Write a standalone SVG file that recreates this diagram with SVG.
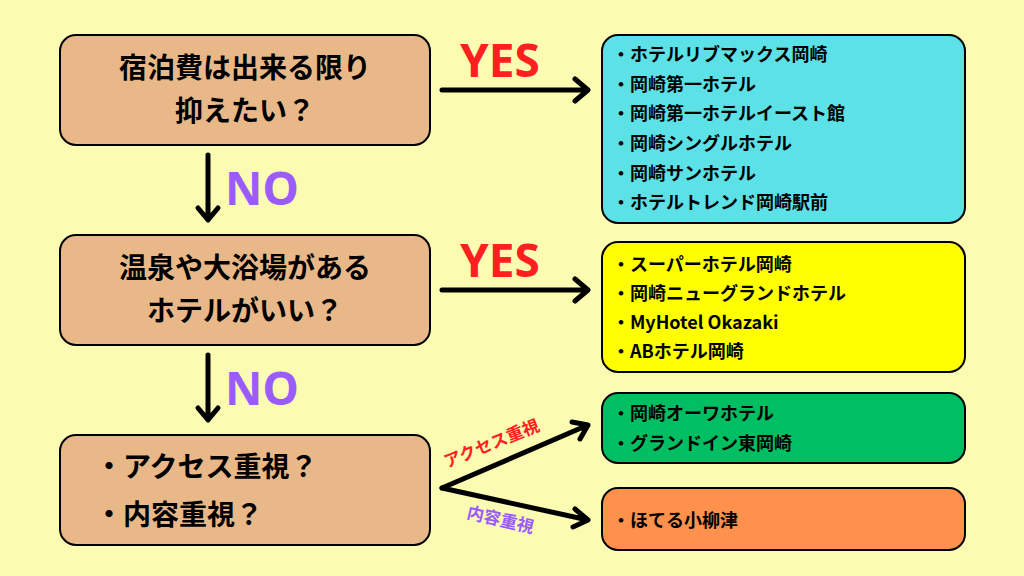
<svg xmlns="http://www.w3.org/2000/svg" width="1024" height="576" viewBox="0 0 1024 576">
<defs>
<style>
text{font-family:"Noto Sans CJK JP","Noto Sans",sans-serif;font-weight:bold}
.q{fill:#E9B888;stroke:#000;stroke-width:2}
.r{stroke:#000;stroke-width:2}
.qt{font-size:28px;fill:#000}
.it{font-size:18px;fill:#000}
.c{stroke:#000;stroke-width:5;fill:none;stroke-linecap:round;stroke-linejoin:round}
.yes{font-size:46px;fill:#FF1F1F;font-family:"Noto Sans",sans-serif}
.no{font-size:46px;fill:#9B5CFF;font-family:"Noto Sans",sans-serif}
</style>
</defs>
<rect width="1024" height="576" fill="#FBFBB1"/>
<g id="q1"><rect class="q" x="60" y="35" width="370" height="110" rx="16"/>
<text class="qt" x="245" y="78" text-anchor="middle">宿泊費は出来る限り</text>
<text class="qt" x="245" y="121" text-anchor="middle">抑えたい？</text></g>
<g id="q2"><rect class="q" x="60" y="235" width="370" height="110" rx="16"/>
<text class="qt" x="245" y="278" text-anchor="middle">温泉や大浴場がある</text>
<text class="qt" x="245" y="321" text-anchor="middle">ホテルがいい？</text></g>
<g id="q3"><rect class="q" x="60" y="435" width="370" height="110" rx="16"/>
<text class="qt" x="95" y="477">・アクセス重視？</text>
<text class="qt" x="95" y="525">・内容重視？</text></g>
<g id="a1"><rect class="r" fill="#5CE1E6" x="602" y="35" width="363" height="188" rx="16"/>
<text class="it" x="612" y="61">・ホテルリブマックス岡崎</text>
<text class="it" x="612" y="91">・岡崎第一ホテル</text>
<text class="it" x="612" y="120">・岡崎第一ホテルイースト館</text>
<text class="it" x="612" y="150">・岡崎シングルホテル</text>
<text class="it" x="612" y="180">・岡崎サンホテル</text>
<text class="it" x="612" y="209">・ホテルトレンド岡崎駅前</text></g>
<g id="a2"><rect class="r" fill="#FFFF00" x="602" y="242" width="363" height="130" rx="16"/>
<text class="it" x="612" y="271">・スーパーホテル岡崎</text>
<text class="it" x="612" y="300">・岡崎ニューグランドホテル</text>
<text class="it" x="612" y="329">・MyHotel Okazaki</text>
<text class="it" x="612" y="358">・ABホテル岡崎</text></g>
<g id="a3"><rect class="r" fill="#00BF63" x="602" y="393" width="363" height="70" rx="16"/>
<text class="it" x="612" y="420">・岡崎オーワホテル</text>
<text class="it" x="612" y="450">・グランドイン東岡崎</text></g>
<g id="a4"><rect class="r" fill="#FF914D" x="602" y="488" width="363" height="62" rx="16"/>
<text class="it" x="612" y="527">・ほてる小柳津</text></g>
<g id="connectors">
<path class="c" d="M208 155V218M198 208L208 220L218 208"/>
<path class="c" d="M208 355V418M198 408L208 420L218 408"/>
<path class="c" d="M442 90H587M575 79L588 90L575 101"/>
<path class="c" d="M442 290H587M575 279L588 290L575 301"/>
<path class="c" d="M442 488L588 425M572 422L588 425L580 439"/>
<path class="c" d="M442 488L588 520M575 509L588 520L573 527"/>
<text class="yes" x="460" y="77">YES</text>
<text class="yes" x="460" y="277">YES</text>
<text class="no" x="225" y="205">NO</text>
<text class="no" x="225" y="405">NO</text>
<text x="447" y="468" font-size="17" fill="#FF1F1F" transform="rotate(-22 447 468)">アクセス重視</text>
<text x="466" y="518" font-size="17" fill="#9B5CFF" transform="rotate(13 466 518)">内容重視</text>
</g>
</svg>
